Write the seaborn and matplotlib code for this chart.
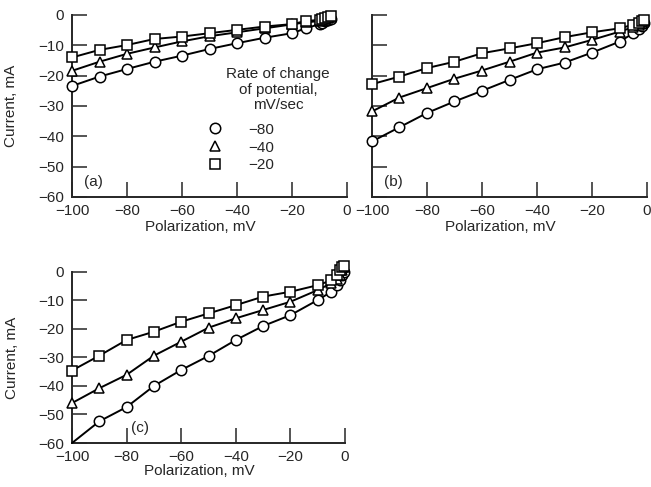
# polarization curves at three sweep rates, panels (a), (b), (c)

import matplotlib
matplotlib.use('Agg')
import matplotlib.pyplot as plt
from matplotlib.lines import Line2D
import pandas as pd
import seaborn as sns

# ------------------------------------------------
# data (polarization mV, current mA)
# ------------------------------------------------
x_a = [-100, -90, -80, -70, -60, -50, -40, -30, -20, -15, -10, -9, -8, -7, -6]
a_80 = [-23.4, -20.3, -17.8, -15.4, -13.4, -11.2, -9.3, -7.5, -6.0, -4.4, -3.0, -2.5, -2.0, -1.6, -1.2]
a_40 = [-18.4, -15.4, -12.8, -10.7, -8.7, -7.0, -5.7, -4.4, -3.1, -2.4, -2.0, -1.6, -1.2, -0.9, -0.6]
a_20 = [-14.0, -11.5, -9.9, -7.9, -7.1, -6.0, -4.9, -3.8, -3.0, -2.0, -1.6, -1.3, -1.0, -0.7, -0.4]

x_b = [-100, -90, -80, -70, -60, -50, -40, -30, -20, -10, -5, -3, -2, -1]
b_80 = [-41.7, -37.0, -32.3, -28.5, -25.0, -21.4, -17.9, -15.7, -12.4, -8.8, -6.0, -4.5, -3.5, -2.5]
b_40 = [-31.8, -27.2, -24.1, -21.0, -18.3, -15.4, -12.4, -10.7, -8.2, -5.5, -4.0, -3.2, -2.6, -2.0]
b_20 = [-22.8, -20.3, -17.5, -15.4, -12.6, -11.0, -9.3, -7.3, -5.7, -4.4, -3.2, -2.5, -2.0, -1.5]

x_c = [-100, -90, -80, -70, -60, -50, -40, -30, -20, -10, -5, -3, -2, -1, -0.5]
c_80 = [-60.0, -52.4, -47.4, -40.0, -34.4, -29.5, -23.9, -19.0, -15.2, -9.9, -7.0, -4.7, -3.0, -1.2, 0.0]
c_40 = [-46.0, -40.8, -36.1, -29.4, -24.5, -19.6, -16.3, -13.4, -10.5, -6.4, -4.0, -2.5, -1.0, 0.5, 1.5]
c_20 = [-34.6, -29.4, -23.9, -21.0, -17.5, -14.6, -11.7, -8.7, -7.0, -4.7, -3.0, -1.0, 0.5, 1.5, 2.0]

rates = ['\u221280', '\u221240', '\u221220']
markers = ['o', '^', 's']
x_ticks = [-100, -80, -60, -40, -20, 0]
y_ticks = [0, -10, -20, -30, -40, -50, -60]

panels = [
    ('(a)', x_a, [a_80, a_40, a_20]),
    ('(b)', x_b, [b_80, b_40, b_20]),
    ('(c)', x_c, [c_80, c_40, c_20]),
]

sns.set_style('ticks')
plt.rcParams['font.family'] = ['Liberation Sans', 'DejaVu Sans']
plt.rcParams['font.size'] = 11
fs = 11

fig = plt.figure(figsize=(6.51, 4.87), dpi=100)
axes = [
    fig.add_axes([0.1106, 0.5955, 0.4225, 0.3737]),
    fig.add_axes([0.5714, 0.5955, 0.4225, 0.3737]),
    fig.add_axes([0.1106, 0.0903, 0.4195, 0.3517]),
]

for ax, (tag, xs, series) in zip(axes, panels):
    for rate, mk, ys in zip(rates, markers, series):
        df = pd.DataFrame({'pol': xs, 'cur': ys})
        # the corner point of panel (c) is drawn without a marker
        every = list(range(1, len(xs))) if (tag == '(c)' and ys[0] <= -60) else None
        sns.lineplot(data=df, x='pol', y='cur', ax=ax, color='black', lw=1.4,
                     marker=mk, markersize=7.5, markerfacecolor='white',
                     markeredgecolor='black', markeredgewidth=1.1, markevery=every,
                     clip_on=False, legend=False, zorder=3)
    ax.set_xlim(-100, 0)
    ax.set_ylim(-60, 0)
    ax.set_xticks(x_ticks)
    ax.set_yticks(y_ticks)
    ax.tick_params(direction='in', length=11, width=1.1, labelsize=fs)
    ax.tick_params(axis='y', pad=6)
    ax.tick_params(axis='x', pad=5)
    for side in ['top', 'right']:
        ax.spines[side].set_visible(False)
    for side in ['left', 'bottom']:
        ax.spines[side].set_linewidth(1.4)
    ax.set_xlabel('Polarization, mV', fontsize=fs)
    ax.xaxis.set_label_coords(0.465, -0.125)
    if tag == '(b)':
        ax.set_ylabel('')
        ax.set_yticklabels([])
    else:
        ax.set_ylabel('Current, mA', fontsize=fs)
        ax.yaxis.set_label_coords(-0.195, 0.5)
    if tag == '(c)':
        ax.text(0.25, 0.09, tag, transform=ax.transAxes, ha='center', va='center', fontsize=fs)
    else:
        ax.text(0.045, 0.08, tag, transform=ax.transAxes, ha='left', va='center', fontsize=fs)

# legend of panel (a)
axes[0].text(0.749, 0.715, 'Rate of change\nof potential,\nmV/sec', transform=axes[0].transAxes,
             ha='center', va='top', multialignment='center', fontsize=fs, linespacing=1.15)
handles = [Line2D([], [], ls='none', marker=mk, markersize=7.5, markerfacecolor='white',
                  markeredgecolor='black', markeredgewidth=1.1) for mk in markers]
axes[0].legend(handles, rates, frameon=False, loc='upper left', bbox_to_anchor=(0.493, 0.408),
               borderaxespad=0, borderpad=0, fontsize=fs, handlelength=1.0,
               handletextpad=1.65, labelspacing=0.25)

plt.savefig('out.png', dpi=100)
